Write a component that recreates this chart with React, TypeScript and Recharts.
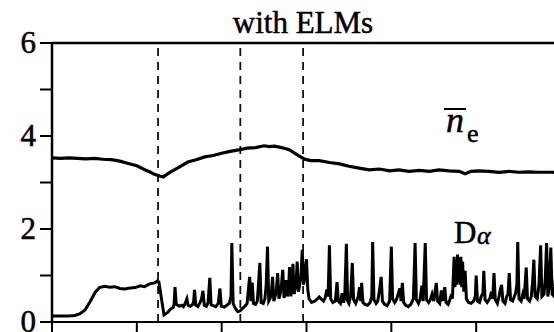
import React from 'react';
import { LineChart, Line, XAxis, YAxis, ReferenceLine } from 'recharts';

// time axis in ms, values in arbitrary units
const xTicks = [0, 100, 200, 300, 400, 500, 600];
const yTicks = [0, 1, 2, 3, 4, 5, 6];
const yTickLabels = ['0', '', '2', '', '4', '', '6'];
const dashedTimes = [125, 222, 296];
const titleText = 'with ELMs';

const neTime = [0, 10, 20, 30, 40, 50, 60, 70, 80, 90, 100, 110, 115, 120, 127, 131, 135, 140, 150, 160, 170, 180, 190, 200, 210, 220, 230, 240, 250, 256, 262, 268, 275, 280, 286, 292, 298, 305, 315, 327, 339, 350, 362, 374, 386, 398, 409, 421, 433, 445, 456, 468, 480, 487, 494, 503, 515, 527, 539, 550, 562, 574, 590, 600];
const neValue = [3.53, 3.52, 3.53, 3.52, 3.51, 3.52, 3.5, 3.49, 3.46, 3.41, 3.36, 3.27, 3.23, 3.18, 3.14, 3.12, 3.17, 3.23, 3.33, 3.44, 3.49, 3.55, 3.58, 3.63, 3.67, 3.7, 3.74, 3.75, 3.79, 3.77, 3.78, 3.76, 3.73, 3.7, 3.63, 3.56, 3.5, 3.47, 3.47, 3.43, 3.4, 3.35, 3.31, 3.27, 3.29, 3.25, 3.27, 3.24, 3.26, 3.24, 3.27, 3.25, 3.24, 3.19, 3.24, 3.25, 3.24, 3.22, 3.24, 3.22, 3.23, 3.22, 3.22, 3.21];

const daTime = [0, 10, 20, 27, 33, 39, 45, 51, 56, 62, 68, 74, 80, 86, 92, 98, 104, 109, 115, 121, 124, 126, 132,
  136, 140, 143, 144, 145, 146.5, 150, 153, 155, 157, 159, 160.5, 163, 166, 167, 168, 169.5, 172, 174, 176, 178, 179.5,
  182, 184, 186, 187.5, 190, 193, 196, 198, 199.5, 203, 206, 209, 211, 212, 213.5, 216, 219, 222, 225, 228, 230, 231,
  233, 234.5, 236, 237.5, 240, 242, 243, 245, 246.5, 249, 251, 252.5, 254, 255.5, 257, 258.5, 260, 261.5, 263, 264.5,
  266, 267.5, 269, 270.5, 272, 273.5, 275, 276, 277.5, 279, 280, 281.5, 283, 284, 285.5, 287, 288, 289, 290.5, 292,
  293.5, 295, 296.5, 298, 299, 300, 301.5, 303, 306, 310, 313, 315, 317, 320, 322, 324, 325.5, 327, 328.5, 331, 334,
  336, 337.5, 340, 342, 343.5, 345, 347, 348.5, 350, 352, 354, 355.5, 358, 361, 362.5, 364, 365, 366.5, 369, 372, 375,
  377, 378, 379.5, 382, 384, 386, 388, 389.5, 392, 395, 398, 400, 401.5, 404, 406, 408, 410, 411.5, 413, 414.5, 417,
  420, 423, 426, 428, 429.5, 432, 434, 436, 437.5, 440, 441.5, 444, 446, 448, 450, 453, 454.5, 457, 459, 460.5, 463,
  464.5, 467, 469, 471, 472, 474, 475, 476, 477, 478, 479, 480, 481, 482, 483, 484, 485.5, 487, 488.5, 491, 494, 497,
  499, 500, 501.5, 504, 506, 508, 509, 510.5, 513, 516, 518, 519.5, 521, 522.5, 525, 527, 528.5, 530, 531.5, 534, 536,
  537.5, 539, 540.5, 543, 545, 546.5, 548, 549, 550.5, 553, 555, 556.5, 558, 559, 560.5, 563, 565, 566.5, 568, 569.5,
  572, 574, 576, 577.5, 580, 581.5, 583, 584.5, 586, 588, 589.5, 592, 595, 596.5, 600];
const daValue = [0.13, 0.13, 0.13, 0.14, 0.18, 0.26, 0.44, 0.64, 0.74, 0.77, 0.75, 0.76, 0.72, 0.71, 0.73, 0.74, 0.78, 0.76, 0.82, 0.84, 0.88, 0.86, 0.15,
  0.2, 0.28, 0.32, 0.4, 0.75, 0.38, 0.34, 0.36, 0.33, 0.4, 0.5, 0.36, 0.34, 0.38, 0.45, 0.69, 0.36, 0.33, 0.4, 0.48, 0.67, 0.36,
  0.34, 0.42, 0.95, 0.37, 0.35, 0.33, 0.4, 0.72, 0.34, 0.32, 0.36, 0.4, 0.55, 1.7, 0.4, 0.3, 0.22, 0.24, 0.3, 0.35, 0.4, 0.6,
  0.97, 0.45, 0.85, 0.4, 0.38, 0.45, 0.7, 1.27, 0.42, 0.4, 0.5, 0.8, 1.62, 0.45, 0.5, 0.6, 0.97, 0.45, 0.55, 0.7,
  1.05, 0.5, 0.6, 0.8, 1.12, 0.52, 0.65, 0.9, 0.55, 0.75, 1.18, 0.55, 0.8, 1.25, 0.6, 0.75, 0.9, 1.3, 0.65, 0.8,
  1.0, 1.55, 0.8, 0.95, 1.2, 1.35, 0.7, 0.5, 0.42, 0.45, 0.5, 0.54, 0.5, 0.45, 0.52, 0.7, 0.55, 1.65, 0.5, 0.42, 0.45,
  0.86, 0.45, 0.4, 0.62, 0.42, 0.5, 1.68, 0.45, 0.4, 0.55, 1.27, 0.48, 0.4, 0.55, 0.75, 0.45, 0.84, 0.42, 0.38, 0.36, 0.42,
  0.55, 1.72, 0.48, 0.4, 0.45, 0.68, 0.97, 0.45, 0.38, 0.35, 0.45, 1.62, 0.5, 0.42, 0.48, 0.6, 0.72, 0.45, 0.84, 0.42, 0.36,
  0.33, 0.38, 0.5, 1.7, 0.48, 0.4, 0.5, 0.78, 0.45, 1.7, 0.48, 0.42, 0.48, 0.6, 0.45, 0.84, 0.45, 0.4, 0.68, 0.45, 0.75,
  0.42, 0.38, 0.48, 0.6, 0.5, 1.4, 0.75, 1.3, 0.8, 1.45, 0.85, 1.38, 0.8, 1.4, 0.75, 1.3, 0.65, 1.1, 0.5, 0.42, 0.4, 0.45,
  0.55, 1.0, 0.45, 0.42, 0.55, 0.62, 1.1, 0.48, 0.42, 0.5, 0.65, 0.5, 1.05, 0.48, 0.4, 0.55, 0.7, 0.8, 0.45, 0.4, 0.55,
  0.6, 1.05, 0.48, 0.45, 0.55, 0.62, 0.8, 1.72, 0.5, 0.45, 0.6, 0.5, 0.9, 1.17, 0.5, 0.45, 0.55, 0.85, 1.34, 0.55,
  0.5, 0.8, 1.65, 0.55, 0.6, 0.95, 1.7, 0.55, 0.75, 1.6, 0.6, 0.55, 1.4, 0.55, 0.5];

const neData = neTime.map((t, i) => ({ t, v: neValue[i] }));
const daData = daTime.map((t, i) => ({ t, v: daValue[i] }));

const serif = '"Liberation Serif", "Times New Roman", serif';
const heavy = { WebkitTextStroke: '0.5px #000' } as React.CSSProperties;

const YTick = (props: any) => {
  const { x, y, payload } = props;
  const label = yTickLabels[yTicks.indexOf(payload.value)];
  return (
    <text x={x} y={y} dy={10} textAnchor="end" stroke="#000" strokeWidth={0.5} style={{ fill: '#000', fontSize: 31, fontFamily: serif }}>
      {label}
    </text>
  );
};

export default function App() {
  return (
    <div style={{ position: 'fixed', left: 0, top: 0, width: 554, height: 332, overflow: 'hidden', background: '#fff', fontFamily: serif }}>
      <LineChart width={600} height={360} margin={{ top: 43, right: 39, bottom: 8, left: 0 }} style={{ fontFamily: serif }}>
        <XAxis
          type="number"
          dataKey="t"
          domain={[0, 600]}
          ticks={xTicks}
          tickSize={10}
          height={30}
          axisLine={{ stroke: '#000', strokeWidth: 2 }}
          tickLine={{ stroke: '#000', strokeWidth: 2 }}
          tickFormatter={() => ''}
          allowDataOverflow
        />
        <YAxis
          type="number"
          domain={[0, 6]}
          ticks={yTicks}
          width={52}
          tickSize={12}
          tickMargin={4}
          axisLine={{ stroke: '#000', strokeWidth: 2.5 }}
          tickLine={{ stroke: '#000', strokeWidth: 2 }}
          tick={YTick}
          interval={0}
        />
        <ReferenceLine y={6} stroke="#000" strokeWidth={2.5} />
        {dashedTimes.map((t) => (
          <ReferenceLine key={t} x={t} stroke="#111" strokeWidth={1.8} strokeDasharray="8 6" />
        ))}
        <Line data={neData} dataKey="v" type="linear" stroke="#000" strokeWidth={3.2} dot={false} isAnimationActive={false} />
        <Line data={daData} dataKey="v" type="linear" stroke="#000" strokeWidth={3} dot={false} isAnimationActive={false} />
      </LineChart>
      <div style={{ position: 'absolute', left: 0, top: 7, width: 606, textAlign: 'center', fontFamily: serif, fontSize: 31, lineHeight: 1, color: '#000', ...heavy }}>
        {titleText}
      </div>
      <span style={{ position: 'absolute', left: 444, top: 108, display: 'block', fontFamily: serif, fontSize: 36, fontStyle: 'italic', lineHeight: '20px', borderTop: '2.5px solid #000', padding: '0 2px', color: '#000', ...heavy }}>n</span>
      <div style={{ position: 'absolute', left: 467, top: 121, fontFamily: serif, fontSize: 26, lineHeight: 1, color: '#000', ...heavy }}>e</div>
      <div style={{ position: 'absolute', left: 454, top: 217, fontFamily: serif, fontSize: 31, lineHeight: 1, color: '#000', ...heavy }}>D</div>
      <div style={{ position: 'absolute', left: 477, top: 223, fontFamily: serif, fontSize: 26, fontStyle: 'italic', lineHeight: 1, color: '#000', ...heavy }}>α</div>
    </div>
  );
}
